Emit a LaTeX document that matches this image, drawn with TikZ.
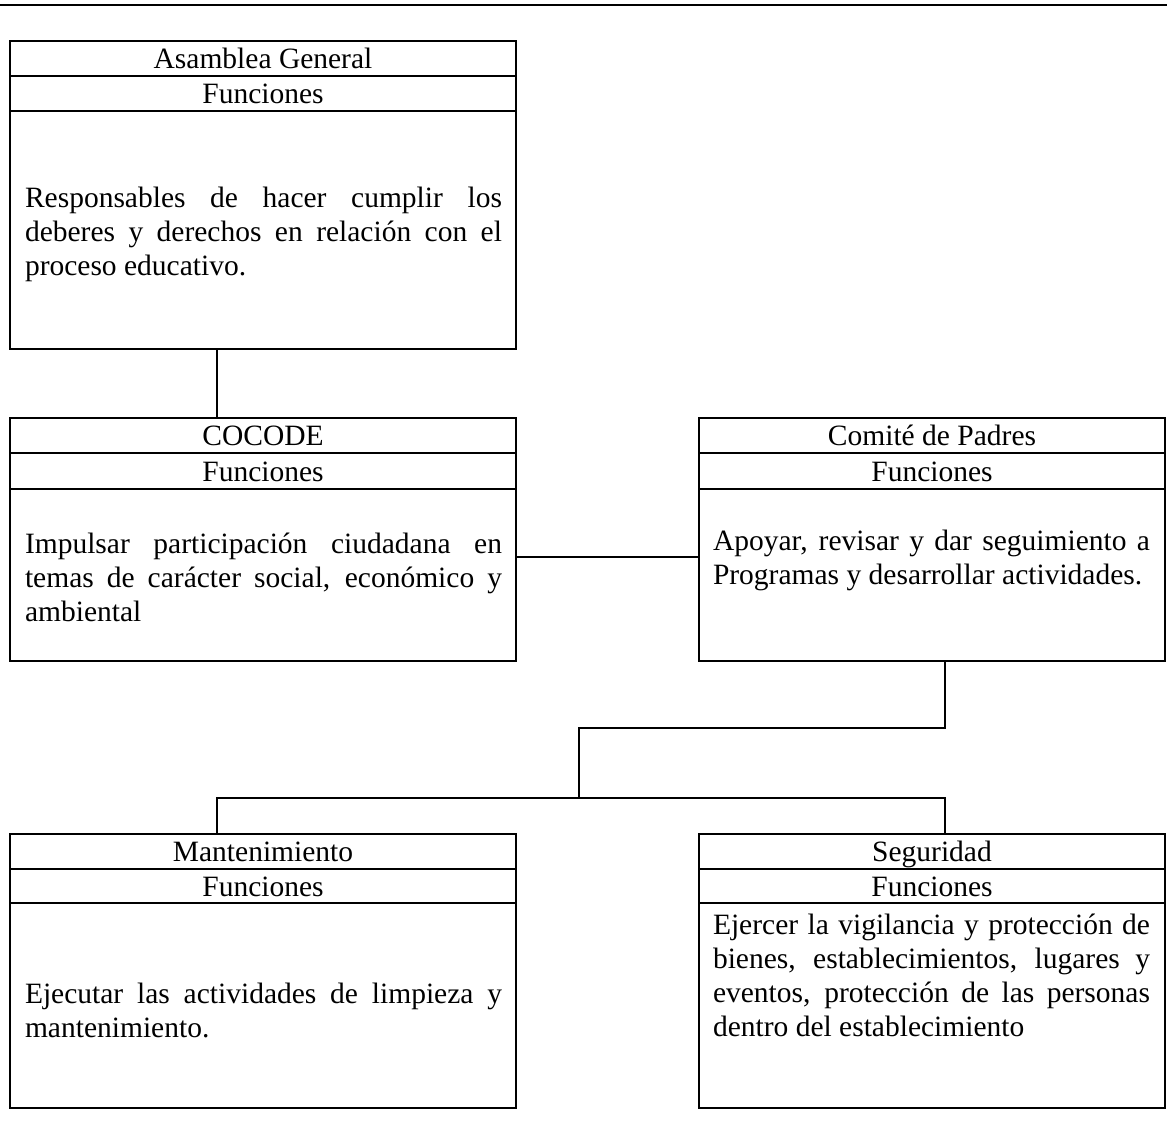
\documentclass[tikz,border=0pt]{standalone}
\usepackage{fontspec}
\setmainfont{Liberation Serif}
\begin{document}
\begin{tikzpicture}[x=1pt,y=-1pt,
  box/.style={draw, line width=1.5pt, rectangle, inner sep=0pt},
  ttl/.style={inner sep=0pt, anchor=base, font=\fontsize{29.5}{34}\selectfont},
  bodyL/.style={inner sep=0pt, text width=477pt, align=justify, font=\fontsize{29.5}{34}\selectfont},
  bodyR/.style={inner sep=0pt, text width=437pt, align=justify, font=\fontsize{29.5}{34}\selectfont},
  sep/.style={line width=1.5pt},
  con/.style={line width=1.5pt}]
\useasboundingbox (0,0) rectangle (1167,1124);
\draw[line width=2pt] (0,5) -- (1167,5);
% boxes
\node[box, minimum width=506pt, minimum height=308pt] (ag) at (263,195) {};
\node[box, minimum width=506pt, minimum height=243pt] (cc) at (263,539.5) {};
\node[box, minimum width=466pt, minimum height=243pt] (cp) at (932,539.5) {};
\node[box, minimum width=506pt, minimum height=274pt] (mt) at (263,971) {};
\node[box, minimum width=466pt, minimum height=274pt] (sg) at (932,971) {};
% separators
\draw[sep] (ag.west |- 0,76) -- (ag.east |- 0,76);
\draw[sep] (ag.west |- 0,111) -- (ag.east |- 0,111);
\draw[sep] (cc.west |- 0,453) -- (cc.east |- 0,453);
\draw[sep] (cc.west |- 0,489) -- (cc.east |- 0,489);
\draw[sep] (cp.west |- 0,453) -- (cp.east |- 0,453);
\draw[sep] (cp.west |- 0,489) -- (cp.east |- 0,489);
\draw[sep] (mt.west |- 0,869) -- (mt.east |- 0,869);
\draw[sep] (mt.west |- 0,903) -- (mt.east |- 0,903);
\draw[sep] (sg.west |- 0,869) -- (sg.east |- 0,869);
\draw[sep] (sg.west |- 0,903) -- (sg.east |- 0,903);
% titles
\node[ttl] (agt) at (263,68.5) {Asamblea General};
\node[ttl] (agf) at (263,103.5) {Funciones};
\node[ttl] (cct) at (263,445.5) {COCODE};
\node[ttl] (ccf) at (263,481) {Funciones};
\node[ttl] (cpt) at (932,445.5) {Comité de Padres};
\node[ttl] (cpf) at (932,481) {Funciones};
\node[ttl] (mtt) at (263,861.5) {Mantenimiento};
\node[ttl] (mtf) at (263,896) {Funciones};
\node[ttl] (sgt) at (932,861.5) {Seguridad};
\node[ttl] (sgf) at (932,896) {Funciones};
% bodies
\node[bodyL] (agb) at (263.5,234) {Responsables de hacer cumplir los\linebreak deberes y derechos en relación con el\linebreak proceso educativo.};
\node[bodyL] (ccb) at (263.5,577) {Impulsar participación ciudadana en\linebreak temas de carácter social, económico y\linebreak ambiental};
\node[bodyR] (cpb) at (931.5,560) {Apoyar, revisar y dar seguimiento a\linebreak Programas y desarrollar actividades.};
\node[bodyL] (mtb) at (263.5,1010) {Ejecutar las actividades de limpieza y\linebreak mantenimiento.};
\node[bodyR] (sgb) at (931.5,975) {Ejercer la vigilancia y protección de\linebreak bienes, establecimientos, lugares y\linebreak eventos, protección de las personas\linebreak dentro del establecimiento};
% connectors
\coordinate (xl) at (217,0);
\coordinate (xr) at (945,0);
\coordinate (xm) at (579,0);
\coordinate (j1) at (579,728);
\coordinate (j2) at (579,798);
\draw[con] (ag.south -| xl) -- (cc.north -| xl);
\draw[con] (cc.east |- 0,557) -- (cp.west |- 0,557);
\draw[con] (cp.south -| xr) |- (j1) -- (j2);
\draw[con] (mt.north -| xl) |- (j2) -| (sg.north -| xr);
\end{tikzpicture}
\end{document}
